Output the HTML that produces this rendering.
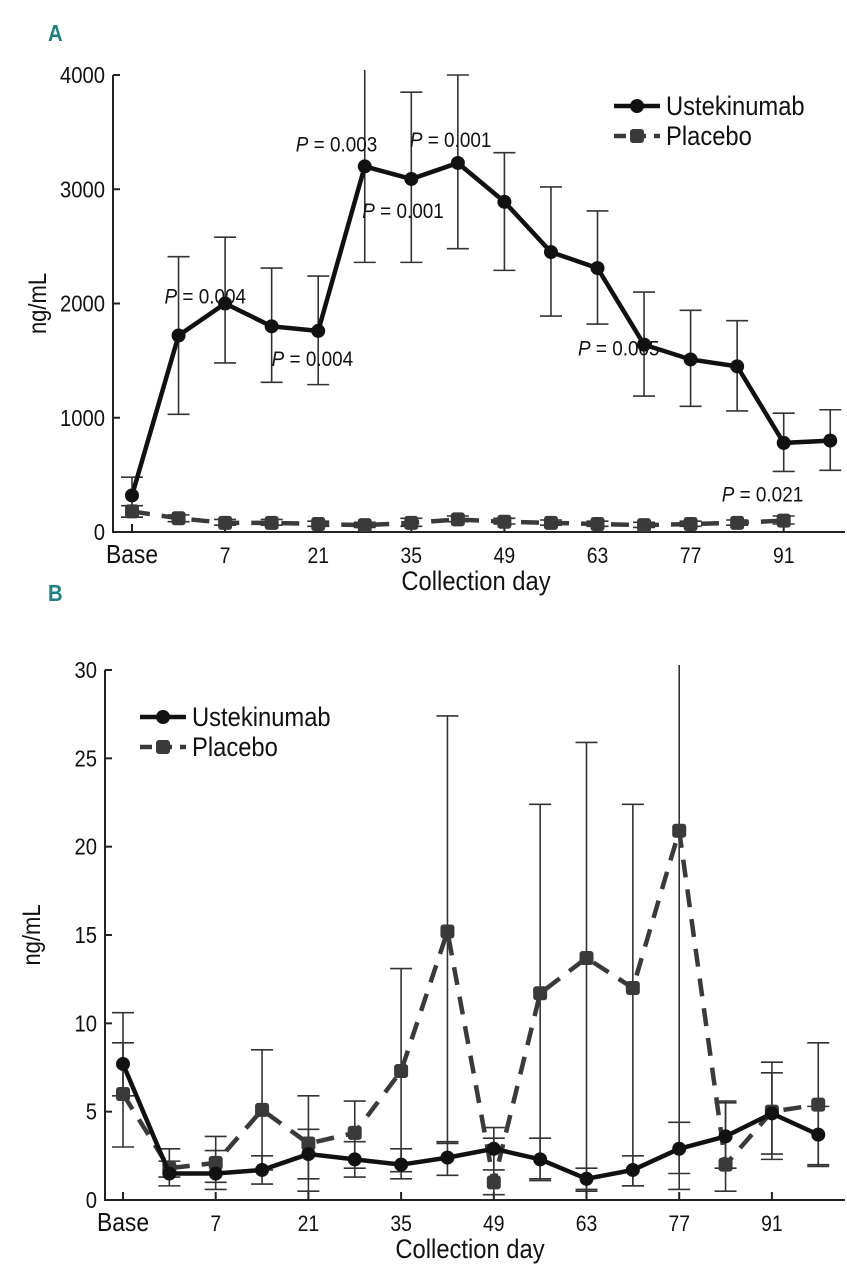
<!DOCTYPE html>
<html><head><meta charset="utf-8"><style>
html,body{margin:0;padding:0;background:#fff;}
svg{display:block;font-family:"Liberation Sans",sans-serif;}
</style></head><body>
<svg id="chart" width="847" height="1280" viewBox="0 0 847 1280"></svg>
<script>
const categoriesA = ["Base","","7","","21","","35","","49","","63","","77","","91",""];
const ustA = [320,1720,2000,1800,1760,3200,3090,3230,2890,2450,2310,1640,1510,1450,780,800];
const ustAHi = [480,2410,2580,2310,2240,4200,3850,4000,3320,3020,2810,2100,1940,1850,1040,1070];
const ustALo = [130,1030,1480,1310,1290,2360,2360,2480,2290,1890,1820,1190,1100,1060,530,540];
const plaA = [180,120,80,80,70,60,80,110,90,80,70,60,70,80,100];
const plaAHi = [230,150,110,110,95,85,120,140,120,105,95,85,95,105,140];
const plaALo = [130,90,60,60,50,40,50,90,70,60,50,40,50,60,70];
const yTicksA = [0,1000,2000,3000,4000];
const pLabelsA = [[1,2000,"0.004",-14,0],[3,1760,"0.004",0,35],[5,3200,"0.003",-69,-15],[7,3230,"0.001",-48,-16],[6,3090,"0.001",-49,39],[11,1640,"0.005",-66,11],[14,100,"0.021",-62,-19]];

const categoriesB = categoriesA;
const ustB = [7.7,1.5,1.5,1.7,2.6,2.3,2.0,2.4,2.9,2.3,1.2,1.7,2.9,3.6,4.9,3.7];
const ustBHi = [8.9,2.2,2.8,2.5,4.0,3.3,2.9,3.3,3.5,3.5,1.8,2.5,4.4,5.5,7.2,5.3];
const ustBLo = [5.9,0.8,0.6,0.9,1.2,1.3,1.2,1.4,1.7,1.2,0.6,0.8,1.5,1.8,2.6,2.0];
const plaB = [6.0,1.8,2.1,5.1,3.2,3.8,7.3,15.2,1.0,11.7,13.7,12.0,20.9,2.0,5.0,5.4];
const plaBHi = [10.6,2.9,3.6,8.5,5.9,5.6,13.1,27.4,4.1,22.4,25.9,22.4,30.5,5.6,7.8,8.9];
const plaBLo = [3.0,1.3,1.0,1.7,0.5,1.8,1.6,3.2,0.3,1.1,0.5,0.8,0.6,0.5,2.3,1.9];
const yTicksB = [0,5,10,15,20,25,30];

const NS="http://www.w3.org/2000/svg";
const svg=document.getElementById('chart');
const SX=0.88;
function mk(tag,attrs,parent){const e=document.createElementNS(NS,tag);for(const k in attrs)e.setAttribute(k,attrs[k]);(parent||svg).appendChild(e);return e;}
function txt(parent,x,y,size,anchor,extra){
  const a=Object.assign({x:0,y:0,transform:`translate(${x},${y}) scale(${SX},1)`,'font-size':size,'text-anchor':anchor,fill:'#111'},extra||{});
  return mk('text',a,parent);
}

function panel(o){
  const g=mk('g',{});
  
  
  const x=i=>o.x0+i*o.dx;
  const y=v=>o.y0-(v/o.ymax)*(o.y0-o.y1);
  const ax=mk('path',{d:`M${o.axX},${o.y1} V${o.y0} H${o.axEnd}`,stroke:'#222','stroke-width':2,fill:'none'},g);
  
  
  o.yTicks.forEach(t=>{
    mk('line',{x1:o.axX,x2:o.axX+7,y1:y(t),y2:y(t),stroke:'#222','stroke-width':2},g);
    const tx=txt(g,o.axX-8,y(t)+8,23,'end');
    tx.textContent=t;
    
    
  });
  o.cats.forEach((c,i)=>{
    if(!c)return;
    mk('line',{x1:x(i),x2:x(i),y1:o.y0,y2:o.y0-8,stroke:'#222','stroke-width':2},g);
    const tx=txt(g,x(i),o.y0+31,c==='Base'?26:22,'middle');
    tx.textContent=c;
    
    
  });
  const xt=txt(g,o.xTitleX,o.y0+58,27,'middle');
  xt.textContent='Collection day';
  
  
  const yt=mk('text',{x:0,y:0,transform:`translate(${o.yTitleX},${(o.y0+o.y1)/2}) rotate(-90) scale(${SX},1)`,'text-anchor':'middle','font-size':25,fill:'#111'},g);
  yt.textContent='ng/mL';
  
  
  const lt=txt(g,48,o.letterY,23,'start',{'font-weight':'bold',fill:'#1f8080'});
  lt.textContent=o.letter;
  
  
  function err(hi,lo,name){
    hi.forEach((h,i)=>{
      const top=Math.max(y(h),o.y1-5), bot=y(lo[i]);
      const e=mk('path',{d:`M${x(i)},${top} V${bot} M${x(i)-11},${bot} h22`+(y(h)>=o.y1-5?` M${x(i)-11},${top} h22`:''),stroke:'#333','stroke-width':1.6,fill:'none'},g);
      
      
    });
  }
  function series(vals,dashed,color,name){
    const d=vals.map((v,i)=>(i?'L':'M')+x(i)+','+y(v)).join(' ');
    const p=mk('path',{d,stroke:color,'stroke-width':4.5,fill:'none','stroke-dasharray':dashed?'18,12':'none'},g);
    
    
    vals.forEach((v,i)=>{
      const m=dashed?mk('rect',{x:x(i)-7,y:y(v)-7,width:14,height:14,rx:3,fill:color},g):mk('circle',{cx:x(i),cy:y(v),r:7,fill:color},g);
      
      
    });
  }
  err(o.pHi,o.pLo,'placebo-error-bar');
  err(o.uHi,o.uLo,'ustekinumab-error-bar');
  series(o.pla,true,'#3a3a3a','placebo');
  series(o.ust,false,'#111','ustekinumab');
  const L=o.leg;
  [[false,'#111','Ustekinumab',0],[true,'#3a3a3a','Placebo',30]].forEach(([d,c,t,off])=>{
    const ly=L.y+off;
    const ln=mk('line',{x1:L.x,x2:L.x+46,y1:ly,y2:ly,stroke:c,'stroke-width':4.5,'stroke-dasharray':d?'12,8':'none'},g);
    
    
    if(d)mk('rect',{x:L.x+16,y:ly-7,width:14,height:14,rx:3,fill:c},g);else mk('circle',{cx:L.x+23,cy:ly,r:7,fill:c},g);
    const tx=txt(g,L.x+52,ly+9,27,'start');
    tx.textContent=t;
    
    
  });
  return {x,y,g};
}

const A=panel({name:'panel-a',letter:'A',letterY:41,x0:132,dx:46.55,y0:532,y1:75,ymax:4000,axX:113,axEnd:845,
  cats:categoriesA,yTicks:yTicksA,ust:ustA,uHi:ustAHi,uLo:ustALo,pla:plaA,pHi:plaAHi,pLo:plaALo,
  xTitleX:476,yTitleX:46,leg:{x:614,y:106}});
pLabelsA.forEach(([i,v,t,dx,dy])=>{
  const tx=txt(A.g,A.x(i)+dx,A.y(v)+dy,21.5,'start');
  tx.innerHTML='<tspan font-style="italic">P</tspan> = '+t;
  
  
});
panel({name:'panel-b',letter:'B',letterY:601,x0:123,dx:46.35,y0:1200,y1:670,ymax:30,axX:105,axEnd:845,
  cats:categoriesB,yTicks:yTicksB,ust:ustB,uHi:ustBHi,uLo:ustBLo,pla:plaB,pHi:plaBHi,pLo:plaBLo,
  xTitleX:470,yTitleX:40,leg:{x:140,y:717}});
</script>
</body></html>
